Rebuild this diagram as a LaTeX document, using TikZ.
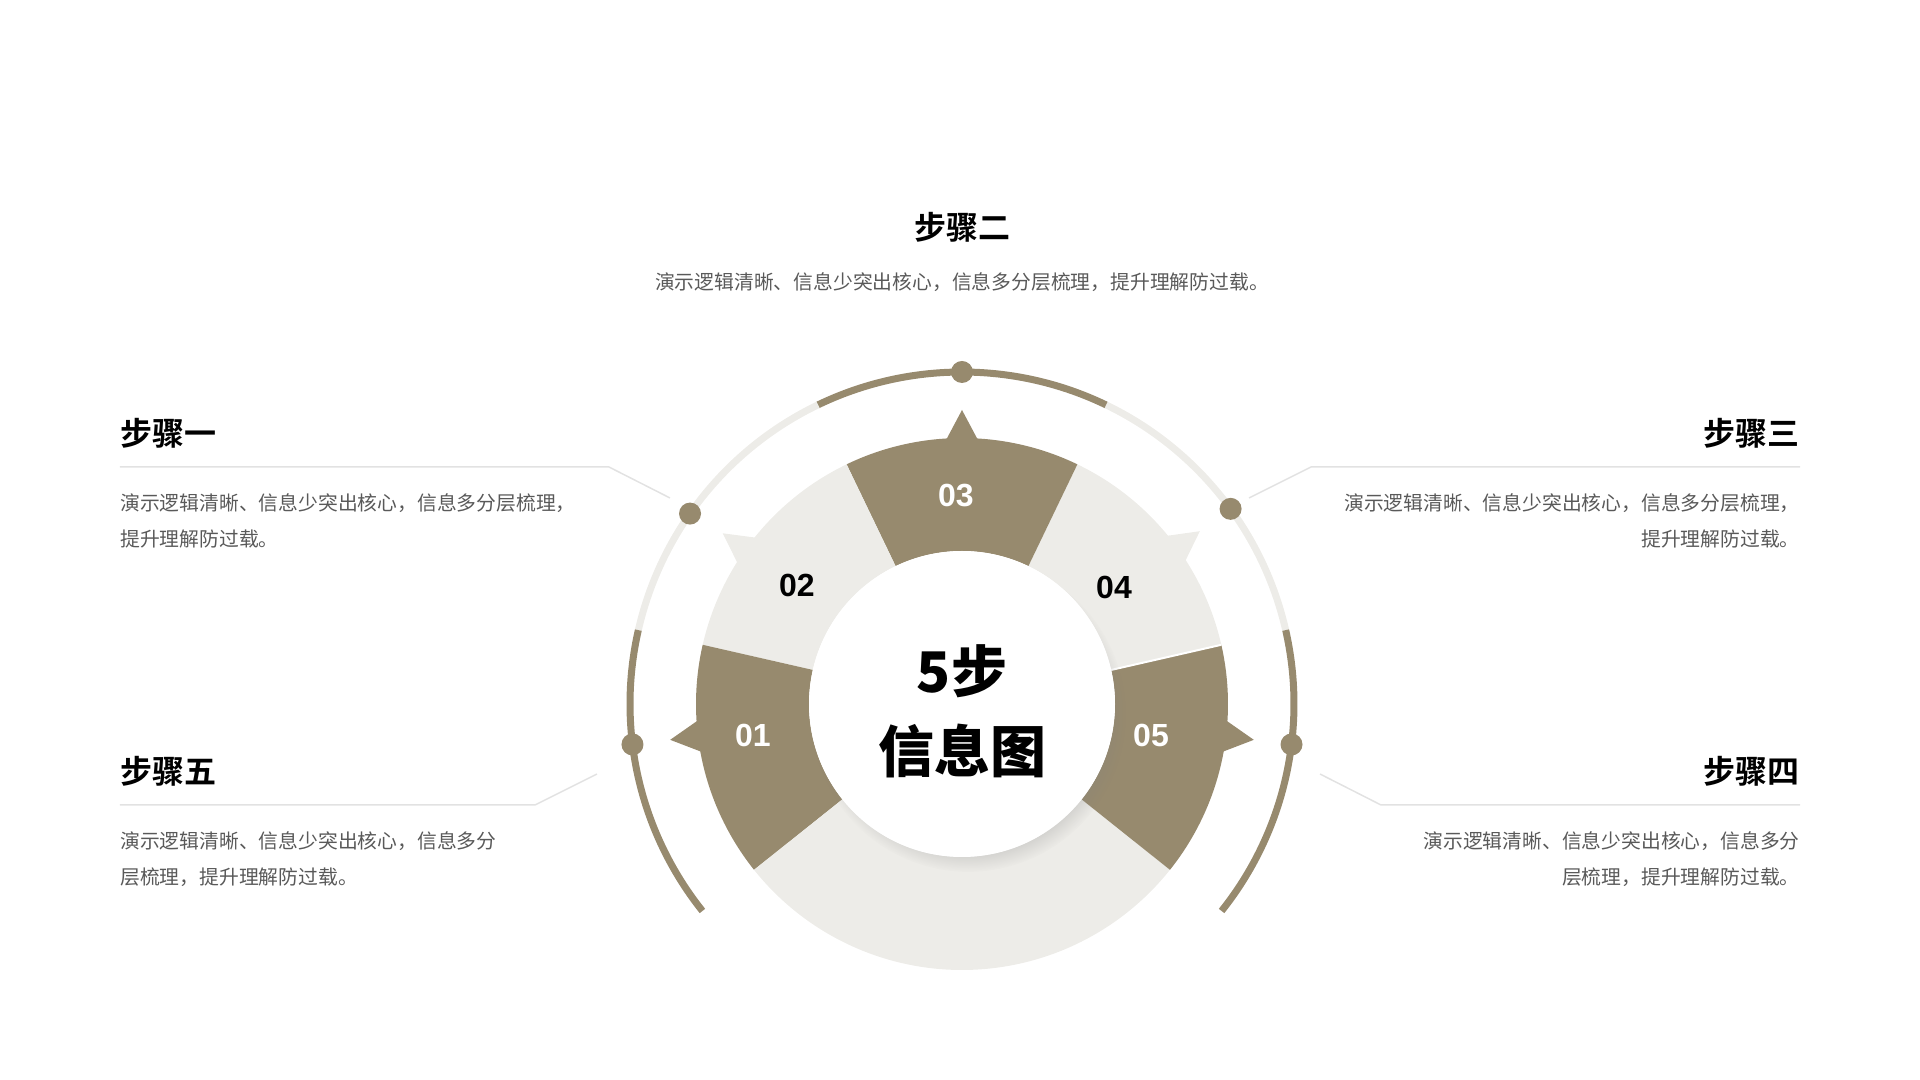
\documentclass[tikz,border=0pt]{standalone}
\usepackage{fontspec}
\setmainfont{Liberation Sans}
\newfontfamily\cjk{Noto Sans CJK SC}[BoldFont={Noto Sans CJK SC Bold}]
\newfontfamily\cjkheavy{Noto Sans CJK SC Black}
\usepackage{tikz}
\usetikzlibrary{shadows,positioning}
\definecolor{stepbrown}{HTML}{978A6E}
\definecolor{stepgray}{HTML}{EDECE8}
\definecolor{leadgray}{HTML}{E2E2E2}
\definecolor{txtgray}{HTML}{595959}

\begin{document}
\begin{tikzpicture}[x=0.5pt,y=0.5pt]
\tikzstyle{title} = [font=\cjk\bfseries\fontsize{16}{19}\selectfont,inner sep=0];
\tikzstyle{desc} = [font=\cjk\fontsize{9.9}{18}\selectfont,text=txtgray,inner sep=0];
\tikzstyle{num} = [font=\bfseries\fontsize{16}{19}\selectfont,inner sep=0];
\tikzstyle{big} = [font=\cjkheavy\fontsize{28}{30}\selectfont,inner sep=0];
\tikzstyle{dot} = [circle,fill=stepbrown,minimum size=11pt,inner sep=0];
\tikzstyle{lead} = [draw=leadgray,line width=0.75pt];
\tikzstyle{ring} = [line width=3.5pt];
\useasboundingbox (-962,-376) rectangle (958,704);

% ring of steps
\fill[stepgray] (12.86:266) arc[start angle=12.86,end angle=64.29,radius=266] -- (64.29:153) arc[start angle=64.29,end angle=12.86,radius=153] -- cycle;
\fill[stepbrown] (64.29:266) arc[start angle=64.29,end angle=115.71,radius=266] -- (115.71:153) arc[start angle=115.71,end angle=64.29,radius=153] -- cycle;
\fill[stepgray] (115.71:266) arc[start angle=115.71,end angle=167.14,radius=266] -- (167.14:153) arc[start angle=167.14,end angle=115.71,radius=153] -- cycle;
\fill[stepbrown] (167.14:266) arc[start angle=167.14,end angle=218.57,radius=266] -- (218.57:153) arc[start angle=218.57,end angle=167.14,radius=153] -- cycle;
\fill[stepgray] (218.57:266) arc[start angle=218.57,end angle=321.43,radius=266] -- (321.43:153) arc[start angle=321.43,end angle=218.57,radius=153] -- cycle;
\fill[stepbrown] (-38.57:266) arc[start angle=-38.57,end angle=12.86,radius=266] -- (12.86:153) arc[start angle=12.86,end angle=-38.57,radius=153] -- cycle;
\draw[white,line width=1pt] (12.86:153) -- (12.86:266);

% tips
\fill[stepbrown,rotate=90] (262,-17) -- (294,0) -- (262,17) -- cycle;
\fill[stepgray,rotate=144.5] (262,-17) -- (294,0) -- (262,17) -- cycle;
\fill[stepgray,rotate=36] (262,-17) -- (294,0) -- (262,17) -- cycle;
\fill[stepbrown,rotate=187] (262,-17) -- (294,0) -- (262,17) -- cycle;
\fill[stepbrown,rotate=-7] (262,-17) -- (294,0) -- (262,17) -- cycle;

% outer arcs
\draw[ring,stepgray] (12.86:332) arc[start angle=12.86,end angle=64.29,radius=332];
\draw[ring,stepbrown] (64.29:332) arc[start angle=64.29,end angle=115.71,radius=332];
\draw[ring,stepgray] (115.71:332) arc[start angle=115.71,end angle=167.14,radius=332];
\draw[ring,stepbrown] (167.14:332) arc[start angle=167.14,end angle=218.57,radius=332];
\draw[ring,stepbrown] (-38.57:332) arc[start angle=-38.57,end angle=12.86,radius=332];
\node[dot] (p3) at (90:332) {};
\node[dot] (p2) at (145:332) {};
\node[dot] (p4) at (36:332) {};
\node[dot] (p1) at (187:332) {};
\node[dot] (p5) at (-7:332) {};

% centre
\node[circle,fill=white,minimum size=153pt,inner sep=0,circular drop shadow={shadow xshift=3pt,shadow yshift=-5pt,opacity=.3,shadow scale=1.03}] (ctr) at (0,0) {};
\node[big] (c1) at (0,33) {5步};
\node[big] (c2) at (0,-47) {信息图};

\node[num,white] (n03) at (-6,208) {03};
\node[num] (n02) at (-165,119) {02};
\node[num] (n04) at (152,117) {04};
\node[num,white] (n01) at (-209,-31) {01};
\node[num,white] (n05) at (189,-31) {05};

% texts
\node[title] (t2) at (0,477) {步骤二};
\node[desc] (d2) at (0,422) {演示逻辑清晰、信息少突出核心，信息多分层梳理，提升理解防过载。};

\node[title,anchor=west] (t1) at (-842,271) {步骤一};
\node[desc,anchor=west,align=left] (d1) at (-842,183) {演示逻辑清晰、信息少突出核心，信息多分层梳理，\\提升理解防过载。};
\node[title,anchor=east] (t3) at (838,271) {步骤三};
\node[desc,anchor=east,align=right] (d3) at (838,183) {演示逻辑清晰、信息少突出核心，信息多分层梳理，\\提升理解防过载。};
\node[title,anchor=west] (t5) at (-842,-67) {步骤五};
\node[desc,anchor=west,align=left] (d5) at (-842,-155) {演示逻辑清晰、信息少突出核心，信息多分\\层梳理，提升理解防过载。};
\node[title,anchor=east] (t4) at (838,-67) {步骤四};
\node[desc,anchor=east,align=right] (d4) at (838,-155) {演示逻辑清晰、信息少突出核心，信息多分\\层梳理，提升理解防过载。};

% leaders
\coordinate (l1a) at (-842,237);
\coordinate (l1b) at (-353,237);
\coordinate (l1c) at (-292,206);
\draw[lead] (l1a) -- (l1b) -- (l1c);
\coordinate (l3a) at (838,237);
\coordinate (l3b) at (349,237);
\coordinate (l3c) at (287,206);
\draw[lead] (l3a) -- (l3b) -- (l3c);
\coordinate (l5a) at (-842,-101);
\coordinate (l5b) at (-427,-101);
\coordinate (l5c) at (-365,-70);
\draw[lead] (l5a) -- (l5b) -- (l5c);
\coordinate (l4a) at (838,-101);
\coordinate (l4b) at (419,-101);
\coordinate (l4c) at (358,-70);
\draw[lead] (l4a) -- (l4b) -- (l4c);
\end{tikzpicture}
\end{document}
